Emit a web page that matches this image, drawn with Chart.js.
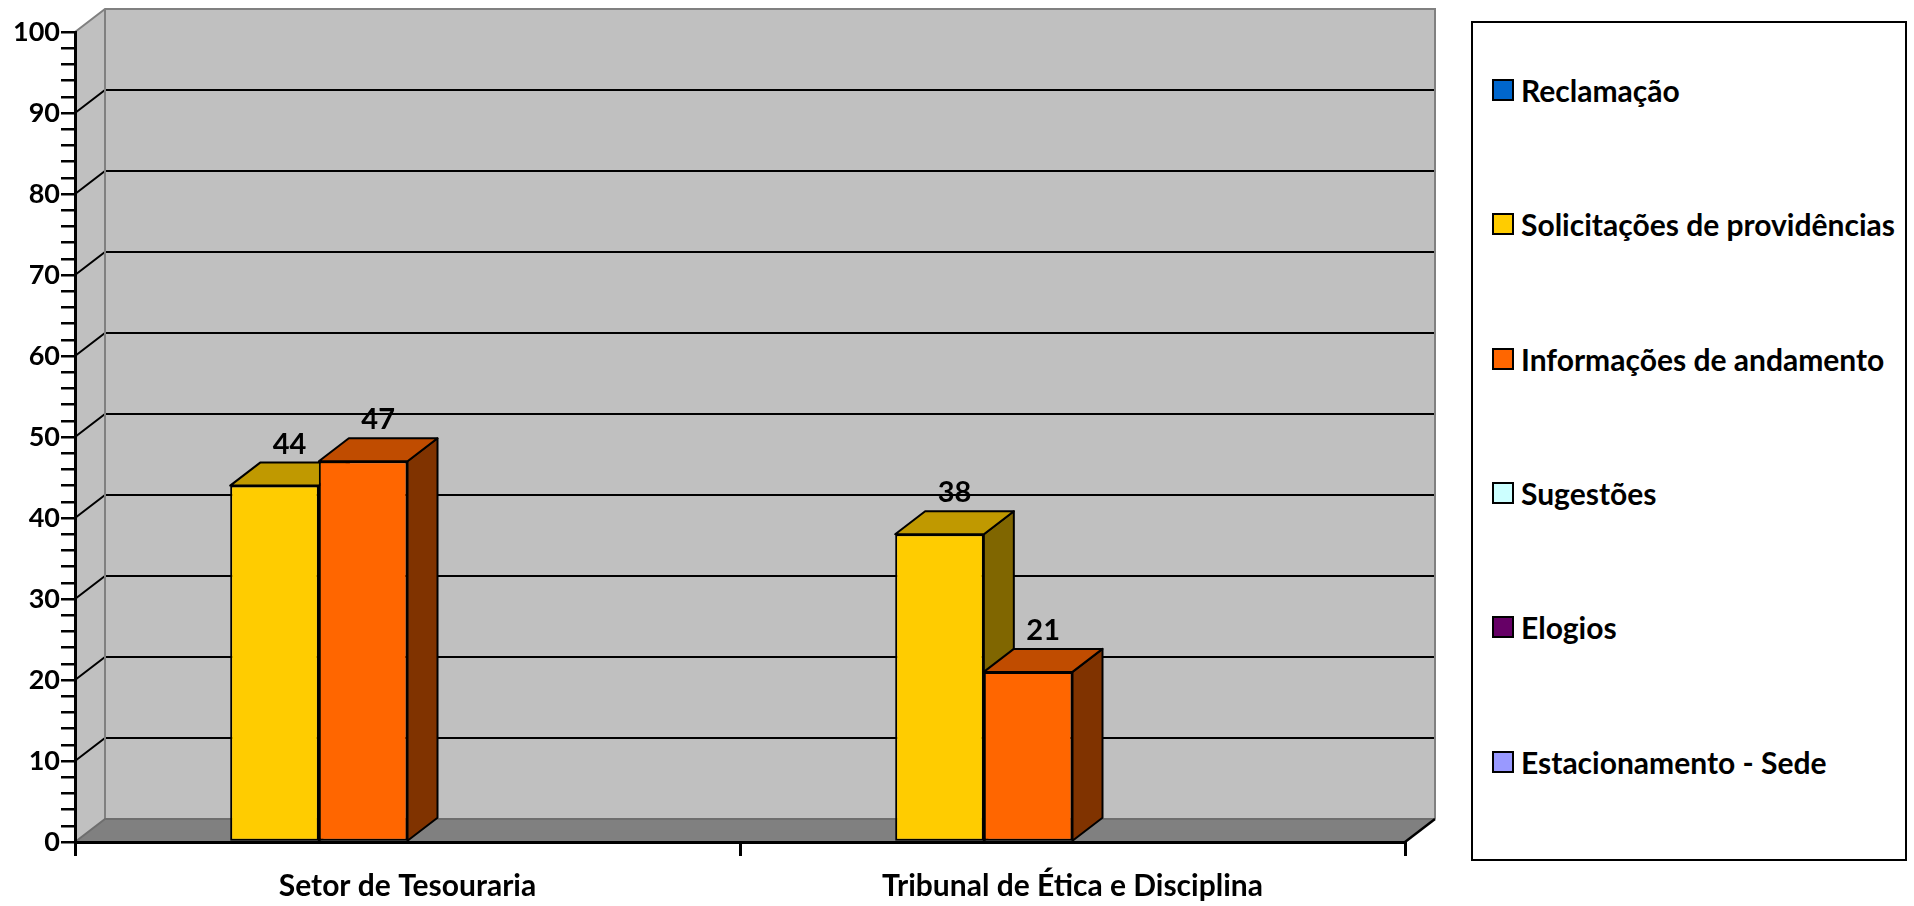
<!DOCTYPE html>
<html lang="pt">
<head>
<meta charset="utf-8">
<title>Demandas por setor</title>
<script src="https://cdn.jsdelivr.net/npm/chart.js@4.4.1/dist/chart.umd.min.js"></script>
<style>
    html, body { margin: 0; padding: 0; background: #fff; }
    #wrap { position: relative; width: 1914px; height: 906px; overflow: hidden; }
    #chart { position: absolute; left: 0; top: 0; }
    #legend {
        position: absolute; left: 1471px; top: 21px; width: 436px; height: 840px;
        box-sizing: border-box; border: 2px solid #000; background: #fff;
        font-family: Lato, sans-serif; font-weight: bold; font-size: 30px; color: #000;
    }
    .item { position: absolute; left: 19px; height: 30px; display: flex; align-items: center; white-space: nowrap; }
    .swatch { width: 18px; height: 18px; border: 2px solid #000; margin-right: 7px; flex: none; }
</style>
</head>
<body>
<div id="wrap">
    <canvas id="chart" width="1914" height="906"></canvas>
    <div id="legend"></div>
</div>
<script>
// categories and series
const categories = ['Setor de Tesouraria', 'Tribunal de Ética e Disciplina'];
const seriesNames = ['Reclamação', 'Solicitações de providências', 'Informações de andamento', 'Sugestões', 'Elogios', 'Estacionamento - Sede'];
const reclamacao = [0, 0];
const solicitacoes = [44, 38];
const informacoes = [47, 21];
const sugestoes = [0, 0];
const elogios = [0, 0];
const estacionamento = [0, 0];

// colours: front, top, side
const frontColors = ['#0066CC', '#FFCC00', '#FF6600', '#CCFFFF', '#660066', '#9999FF'];
const topColors = ['#004C99', '#C09900', '#C04C00', '#99BFBF', '#4C004C', '#7373BF'];
const sideColors = ['#003366', '#806600', '#803300', '#668080', '#330033', '#4C4C80'];

const yMin = 0;
const yMax = 100;
const yStep = 2;
const yLabelEvery = 10;

// 3D depth offset
const DX = 30;
const DY = 23;

const seriesValues = [reclamacao, solicitacoes, informacoes, sugestoes, elogios, estacionamento];

function buildLegend() {
    const legend = document.getElementById('legend');
    seriesNames.forEach((name, i) => {
        const item = document.createElement('div');
        item.className = 'item';
        item.style.top = (52 + i * 134.3) + 'px';
        const sw = document.createElement('span');
        sw.className = 'swatch';
        sw.style.background = frontColors[i];
        const txt = document.createElement('span');
        txt.textContent = name;
        item.appendChild(sw);
        item.appendChild(txt);
        legend.appendChild(item);
    });
}

// gray walls, floor and grid lines behind the bars
const wallsPlugin = {
    id: 'walls',
    beforeDraw(chart) {
        const ctx = chart.ctx;
        const a = chart.chartArea;
        const y = chart.scales.y;
        const top = y.getPixelForValue(yMax);
        const bot = y.getPixelForValue(yMin);
        ctx.save();
        // left side wall
        ctx.fillStyle = '#C0C0C0';
        ctx.beginPath();
        ctx.moveTo(a.left, bot);
        ctx.lineTo(a.left, top);
        ctx.lineTo(a.left + DX, top - DY);
        ctx.lineTo(a.left + DX, bot - DY);
        ctx.closePath();
        ctx.fill();
        // back wall
        ctx.fillRect(a.left + DX, top - DY, a.right - a.left, bot - top);
        // floor
        ctx.fillStyle = '#808080';
        ctx.beginPath();
        ctx.moveTo(a.left, bot);
        ctx.lineTo(a.right, bot);
        ctx.lineTo(a.right + DX, bot - DY);
        ctx.lineTo(a.left + DX, bot - DY);
        ctx.closePath();
        ctx.fill();

        // grid lines
        ctx.lineWidth = 2;
        ctx.strokeStyle = '#000';
        for (let v = yMin + yLabelEvery; v < yMax; v += yLabelEvery) {
            const py = y.getPixelForValue(v);
            ctx.beginPath();
            ctx.moveTo(a.left, py);
            ctx.lineTo(a.left + DX, py - DY);
            ctx.lineTo(a.right + DX, py - DY);
            ctx.stroke();
        }

        // wall edges
        ctx.strokeStyle = '#808080';
        ctx.lineWidth = 2;
        ctx.beginPath();
        ctx.moveTo(a.left, top);
        ctx.lineTo(a.left + DX, top - DY);
        ctx.lineTo(a.right + DX, top - DY);
        ctx.lineTo(a.right + DX, bot - DY);
        ctx.moveTo(a.left + DX, top - DY);
        ctx.lineTo(a.left + DX, bot - DY);
        ctx.stroke();
        ctx.strokeStyle = '#6E6E6E';
        ctx.beginPath();
        ctx.moveTo(a.left, bot);
        ctx.lineTo(a.left + DX, bot - DY);
        ctx.lineTo(a.right + DX, bot - DY);
        ctx.stroke();
        ctx.strokeStyle = '#000';
        ctx.lineWidth = 2.5;
        ctx.beginPath();
        ctx.moveTo(a.right, bot);
        ctx.lineTo(a.right + DX, bot - DY);
        ctx.stroke();
        ctx.restore();
    }
};

// top and side faces of each bar, drawn left to right before the fronts
const bar3dPlugin = {
    id: 'bar3d',
    beforeDatasetsDraw(chart) {
        const ctx = chart.ctx;
        const bars = [];
        chart.data.datasets.forEach((ds, di) => {
            chart.getDatasetMeta(di).data.forEach((el) => {
                const p = el.getProps(['x', 'y', 'base', 'width'], true);
                if (Math.abs(p.base - p.y) < 1) return;
                bars.push({ p, di });
            });
        });
        bars.sort((a, b) => a.p.x - b.p.x);
        ctx.save();
        ctx.lineWidth = 2;
        ctx.strokeStyle = '#000';
        ctx.lineJoin = 'round';
        bars.forEach(({ p, di }) => {
            const l = p.x - p.width / 2;
            const r = p.x + p.width / 2;
            // side
            ctx.fillStyle = sideColors[di];
            ctx.beginPath();
            ctx.moveTo(r, p.y);
            ctx.lineTo(r + DX, p.y - DY);
            ctx.lineTo(r + DX, p.base - DY);
            ctx.lineTo(r, p.base);
            ctx.closePath();
            ctx.fill();
            ctx.stroke();
            // top
            ctx.fillStyle = topColors[di];
            ctx.beginPath();
            ctx.moveTo(l, p.y);
            ctx.lineTo(r, p.y);
            ctx.lineTo(r + DX, p.y - DY);
            ctx.lineTo(l + DX, p.y - DY);
            ctx.closePath();
            ctx.fill();
            ctx.stroke();
        });
        ctx.restore();
    },
    afterDatasetsDraw(chart) {
        const ctx = chart.ctx;
        ctx.save();
        ctx.font = 'bold 29px Lato, sans-serif';
        ctx.fillStyle = '#000';
        ctx.textAlign = 'center';
        ctx.textBaseline = 'alphabetic';
        chart.data.datasets.forEach((ds, di) => {
            chart.getDatasetMeta(di).data.forEach((el, i) => {
                const v = ds.data[i];
                if (!v) return;
                const p = el.getProps(['x', 'y'], true);
                ctx.fillText(String(v), p.x + DX / 2, p.y - DY - 9);
            });
        });
        ctx.restore();
    }
};

function drawChart() {
    buildLegend();
    const ctx = document.getElementById('chart');
    new Chart(ctx, {
        type: 'bar',
        data: {
            labels: categories,
            datasets: seriesNames.map((name, i) => ({
                label: name,
                data: seriesValues[i],
                backgroundColor: frontColors[i],
                borderColor: '#000',
                borderWidth: 2,
                borderSkipped: false,
                categoryPercentage: 0.8,
                barPercentage: 1.0
            }))
        },
        options: {
            responsive: false,
            devicePixelRatio: 1,
            animation: false,
            layout: { padding: { top: 32, right: 509, left: 0, bottom: 0 } },
            plugins: {
                legend: { display: false },
                tooltip: { enabled: false },
                title: { display: false }
            },
            scales: {
                x: {
                    offset: true,
                    grid: {
                        offset: true,
                        drawOnChartArea: false,
                        drawTicks: true,
                        tickLength: 14,
                        color: '#000',
                        lineWidth: 3
                    },
                    border: { display: true, color: '#000', width: 3 },
                    ticks: {
                        color: '#000',
                        padding: 12,
                        maxRotation: 0,
                        font: { family: 'Lato', weight: 'bold', size: 30 }
                    },
                    afterFit(scale) { scale.height = 64; }
                },
                y: {
                    min: yMin,
                    max: yMax,
                    grid: {
                        drawOnChartArea: false,
                        drawTicks: true,
                        tickLength: 14,
                        color: '#000',
                        lineWidth: 2.5
                    },
                    border: { display: true, color: '#000', width: 3 },
                    ticks: {
                        stepSize: yStep,
                        autoSkip: false,
                        color: '#000',
                        padding: 1,
                        font: { family: 'Lato', weight: 'bold', size: 27 },
                        callback: (v) => (v % yLabelEvery === 0 ? v : '')
                    },
                    afterFit(scale) { scale.width = 75; }
                }
            }
        },
        plugins: [wallsPlugin, bar3dPlugin]
    });
}

document.addEventListener('DOMContentLoaded', function() {
    if (document.fonts && document.fonts.load) {
        document.fonts.load('bold 28px Lato').then(drawChart, drawChart);
    } else {
        drawChart();
    }
});
</script>
</body>
</html>
